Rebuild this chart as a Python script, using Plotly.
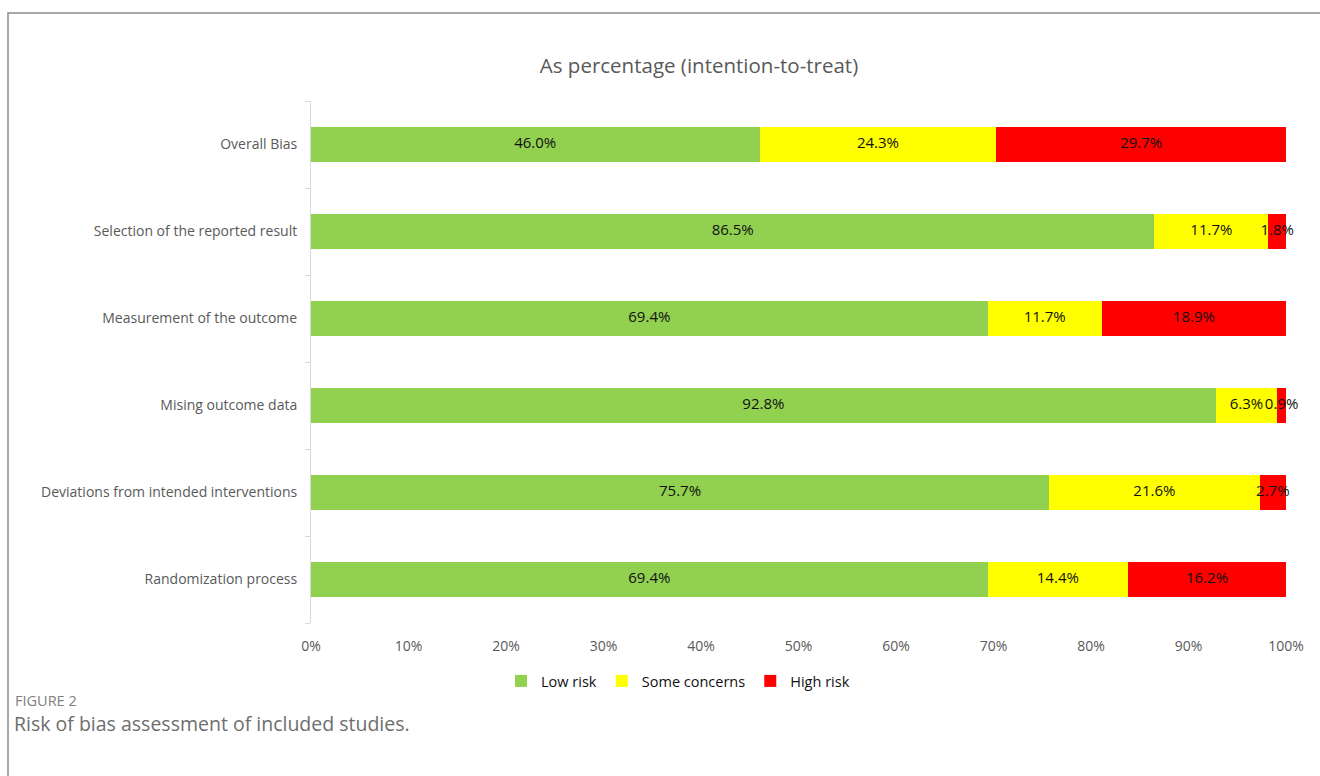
import plotly.graph_objects as go

# Risk-of-bias domains, listed bottom to top
domains = [
    "Randomization process",
    "Deviations from intended interventions",
    "Mising outcome data",
    "Measurement of the outcome",
    "Selection of the reported result",
    "Overall Bias",
]
low_risk = [69.4, 75.7, 92.8, 69.4, 86.5, 46.0]
some_concerns = [14.4, 21.6, 6.3, 11.7, 11.7, 24.3]
high_risk = [16.2, 2.7, 0.9, 18.9, 1.8, 29.7]

x_ticks = [0, 10, 20, 30, 40, 50, 60, 70, 80, 90, 100]

FONT = "Open Sans"
GREY = "#595959"

series = [
    ("Low risk", low_risk, "#92D050"),
    ("Some concerns", some_concerns, "#FFFF00"),
    ("High risk", high_risk, "#FF0000"),
]

fig = go.Figure()

# stacked bars
for name, vals, color in series:
    fig.add_trace(go.Bar(
        name=name,
        y=domains,
        x=vals,
        orientation="h",
        marker=dict(color=color, line=dict(width=0)),
        hoverinfo="skip",
    ))

# value labels centred on each segment (may spill over narrow segments)
base = [0.0] * len(domains)
for name, vals, color in series:
    mids = [b + v / 2 for b, v in zip(base, vals)]
    fig.add_trace(go.Scatter(
        x=mids,
        y=domains,
        mode="text",
        text=[f"{v:.1f}%" for v in vals],
        textposition="middle center",
        textfont=dict(family=FONT, size=15, color="#111111"),
        showlegend=False,
        cliponaxis=False,
        hoverinfo="skip",
    ))
    base = [b + v for b, v in zip(base, vals)]

W, H = 1320, 776
ml, mr, mt, mb = 311, 34, 101, 153
pw = W - ml - mr
ph = H - mt - mb


def px_x(p):
    return (p - ml) / pw


def px_y(p):
    return (H - mb - p) / ph


fig.update_layout(
    width=W,
    height=H,
    barmode="stack",
    bargap=0.6,
    margin=dict(l=ml, r=mr, t=mt, b=mb),
    paper_bgcolor="white",
    plot_bgcolor="white",
    font=dict(family=FONT, color=GREY),
    title=dict(
        text="As percentage (intention-to-treat)",
        x=699 / W,
        xanchor="center",
        y=1 - 66 / H,
        yanchor="middle",
        font=dict(family=FONT, size=20.5, color=GREY),
    ),
    xaxis=dict(
        range=[0, 100],
        tickvals=x_ticks,
        ticktext=[f"{t}%" for t in x_ticks],
        showgrid=False,
        zeroline=False,
        showline=False,
        ticks="",
        tickfont=dict(family=FONT, size=14, color=GREY),
        ticklabelstandoff=13,
        fixedrange=True,
    ),
    yaxis=dict(
        type="category",
        categoryorder="array",
        categoryarray=domains,
        range=[-0.5, len(domains) - 0.5],
        showgrid=False,
        zeroline=False,
        showline=True,
        linecolor="#D9D9D9",
        linewidth=1,
        ticks="outside",
        tickson="boundaries",
        ticklen=5,
        tickcolor="#D9D9D9",
        tickfont=dict(family=FONT, size=14, color=GREY),
        ticklabelstandoff=10,
        fixedrange=True,
    ),
    legend=dict(
        orientation="h",
        x=px_x(678),
        xanchor="center",
        y=px_y(681),
        yanchor="middle",
        font=dict(family=FONT, size=14.5, color="#111111"),
        itemwidth=30,
        traceorder="normal",
        bgcolor="rgba(0,0,0,0)",
    ),
    shapes=[
        dict(
            type="rect",
            xref="paper",
            yref="paper",
            x0=px_x(8),
            x1=px_x(1340),
            y0=px_y(800),
            y1=px_y(13),
            line=dict(color="#8C8C8C", width=1.5),
            fillcolor="rgba(0,0,0,0)",
            layer="below",
        )
    ],
    annotations=[
        dict(
            text="FIGURE 2",
            xref="paper",
            yref="paper",
            x=px_x(13),
            y=px_y(700),
            xanchor="left",
            yanchor="middle",
            showarrow=False,
            font=dict(family=FONT, size=14.5, color="#7F7F7F"),
        ),
        dict(
            text="Risk of bias assessment of included studies.",
            xref="paper",
            yref="paper",
            x=px_x(12),
            y=px_y(723),
            xanchor="left",
            yanchor="middle",
            showarrow=False,
            font=dict(family=FONT, size=19.5, color="#6E6E6E"),
        ),
    ],
)

fig.write_html("out.html")
